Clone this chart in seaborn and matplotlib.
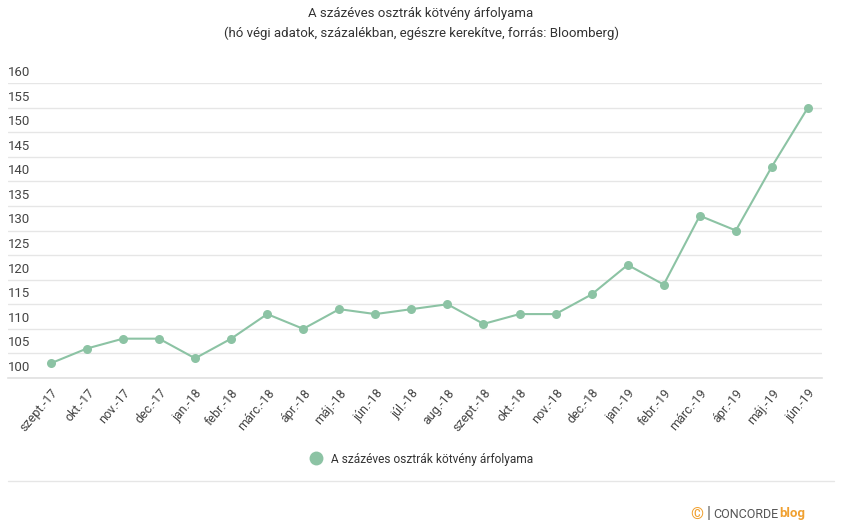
import matplotlib
matplotlib.use("Agg")
import matplotlib.pyplot as plt
import matplotlib.transforms as mtransforms
from matplotlib.lines import Line2D
import seaborn as sns
import pandas as pd

months = ["szept.-17", "okt.-17", "nov.-17", "dec.-17", "jan.-18", "febr.-18",
          "márc.-18", "ápr.-18", "máj.-18", "jún.-18", "júl.-18", "aug.-18",
          "szept.-18", "okt.-18", "nov.-18", "dec.-18", "jan.-19", "febr.-19",
          "márc.-19", "ápr.-19", "máj.-19", "jún.-19"]
prices = [103, 106, 108, 108, 104, 108, 113, 110, 114, 113, 114, 115,
          111, 113, 113, 117, 123, 119, 133, 130, 143, 155]
yticks = [100, 105, 110, 115, 120, 125, 130, 135, 140, 145, 150, 155, 160]
series_name = "A százéves osztrák kötvény árfolyama"

sns.set_theme(style="white")
plt.rcParams['font.family'] = ['Roboto', 'DejaVu Sans']

W, H = 842, 527
fig = plt.figure(figsize=(W / 100, H / 100), dpi=100)
left, right, top, bottom = 8, 822, 83, 378
ax = fig.add_axes([left / W, 1 - bottom / H, (right - left) / W, (bottom - top) / H])

df = pd.DataFrame({"x": range(len(months)), "y": prices})
color = "#8cc3a4"
sns.lineplot(data=df, x="x", y="y", ax=ax, color=color, linewidth=1.5,
             marker="o", markersize=6.5, markeredgewidth=0, zorder=3)

ax.set_ylim(100, 160)
ax.set_xlim(-1.19, 21.39)
ax.set_yticks(yticks)
ax.yaxis.grid(True, color="#e6e6e6", linewidth=1)
ax.set_yticklabels([])
ax.tick_params(axis="y", length=0)
for s in ["top", "right", "left"]:
    ax.spines[s].set_visible(False)
ax.spines["bottom"].set_color("#e0e0e0")
ax.spines["bottom"].set_linewidth(1.2)
ax.set_xlabel("")
ax.set_ylabel("")

trans = mtransforms.blended_transform_factory(ax.transAxes, ax.transData)
for v in yticks:
    ax.text(0, v, str(v), transform=trans + mtransforms.ScaledTranslation(0, 4 / 100, fig.dpi_scale_trans),
            ha="left", va="bottom", fontsize=9.5, color="#444444")

ax.set_xticks(range(len(months)))
ax.set_xticklabels(months, rotation=50, ha="right", rotation_mode="anchor",
                   fontsize=9, color="#444444")
ax.tick_params(axis="x", length=0, pad=6)

fig.text(0.5, 1 - 13 / H, series_name, ha="center", va="center", fontsize=9.5, color="#333333")
fig.text(0.5, 1 - 33 / H, "(hó végi adatok, százalékban, egészre kerekítve, forrás: Bloomberg)",
         ha="center", va="center", fontsize=9.5, color="#333333")

handle = Line2D([], [], marker="o", color=color, linestyle="none", markersize=10, markeredgewidth=0)
fig.legend([handle], [series_name], loc="center", bbox_to_anchor=(0.497, 1 - 459 / H),
           frameon=False, fontsize=8.6, handletextpad=0.3, labelcolor="#333333")

fig.add_artist(Line2D([8 / W, 834 / W], [1 - 481 / H, 1 - 481 / H], color="#e6e6e6", linewidth=1))

fig.text(697 / W, 1 - 514 / H, "©", ha="center", va="center", fontsize=12, color="#f0a030", fontweight="bold")
fig.text(709 / W, 1 - 514 / H, "|", ha="center", va="center", fontsize=12, color="#666666")
fig.text(713 / W, 1 - 514 / H, "CONCORDE", ha="left", va="center", fontsize=9, color="#555555")
fig.text(779 / W, 1 - 514 / H, "blog", ha="left", va="center", fontsize=9.5, color="#f0a030", fontweight="bold")

fig.savefig("out.png", dpi=100, facecolor="white")
